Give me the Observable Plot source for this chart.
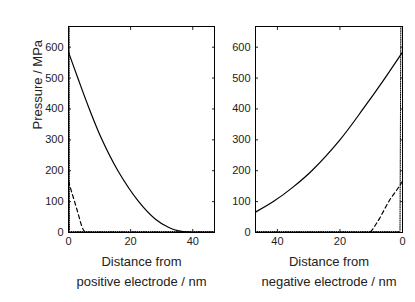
<!DOCTYPE html>
<html>
<head>
<meta charset="utf-8">
<script src="https://cdn.jsdelivr.net/npm/d3@7"></script>
<script src="https://cdn.jsdelivr.net/npm/@observablehq/plot@0.6"></script>
<style>
  html, body { margin: 0; padding: 0; background: #fff; }
  #wrap { position: relative; width: 415px; height: 302px; font-family: "Liberation Sans", Arial, sans-serif; }
  #wrap svg { position: absolute; top: 0; overflow: visible; background: none; }
</style>
</head>
<body>
<div id="wrap"></div>
<script>
// ---- data ----
const yTicks = [0, 100, 200, 300, 400, 500, 600];
const xTicks = [0, 20, 40];
const yLabel = "Pressure / MPa";
const posLabel = "Distance from\npositive electrode / nm";
const negLabel = "Distance from\nnegative electrode / nm";

// positive electrode panel
const posSolidX = [0, 3.0, 6.7, 10.8, 15.9, 22.6, 28, 32.3, 35.5, 38.7, 42, 47];
const posSolidY = [584, 500, 400, 300, 200, 100, 43, 16, 5, 1, 0.5, 0.5];
const posDashX = [0, 1.1, 2.2, 3.3, 4.3, 5.0, 5.6];
const posDashY = [166, 128, 92, 54, 20, 5, 0];
const posDotX = [0, 0.3, 47];
const posDotY = [2000, 3, 3];

// negative electrode panel
const negSolidX = [0, 5.6, 12.6, 20, 29, 35, 41.3, 47];
const negSolidY = [584, 500, 400, 300, 200, 147, 100, 66];
const negDashX = [0, 2, 4, 5.6, 7.2, 8.6, 9.9, 10.6];
const negDashY = [166, 135, 107, 78, 48, 25, 6, 0];
const negDotX = [0, 0.8, 47];
const negDotY = [2000, 3, 3];

const xMax = 47, yMax = 667;

const zip = (xs, ys) => xs.map((x, i) => ({x, y: ys[i]}));

function panel({solid, dash, dot, reverse, width, marginLeft, marginRight, label, showYLabel}) {
  const marks = [
    Plot.line(dot, {x: "x", y: "y", stroke: "black", strokeWidth: 1, strokeDasharray: "1,1.2", clip: true}),
    Plot.line(dash, {x: "x", y: "y", stroke: "black", strokeWidth: 1.2, strokeDasharray: "4,3", curve: "catmull-rom", clip: true}),
    Plot.line(solid, {x: "x", y: "y", stroke: "black", strokeWidth: 1.2, curve: "catmull-rom", clip: true}),
    Plot.axisY(yTicks, {anchor: "left", tickSize: -3, tickPadding: 8, fontSize: 11, label: null}),
    Plot.axisY(yTicks, {anchor: "right", tickSize: -3, tickFormat: () => "", label: null}),
    Plot.axisX(xTicks, {anchor: "bottom", tickSize: -3, tickPadding: 8, fontSize: 11, label: null}),
    Plot.axisX(xTicks, {anchor: "top", tickSize: -3, tickFormat: () => "", label: null}),
    Plot.frame({stroke: "black", strokeWidth: 1}),
    Plot.text([label], {frameAnchor: "bottom", lineAnchor: "top", dy: 20, fontSize: 13, lineHeight: 1.5, fill: "#222"})
  ];
  if (showYLabel) {
    marks.push(Plot.text([yLabel], {frameAnchor: "left", dx: -31, rotate: -90, fontSize: 13, fill: "#222"}));
  }
  return Plot.plot({
    width, height: 302,
    marginLeft, marginRight, marginTop: 26, marginBottom: 70,
    style: {fontFamily: "Liberation Sans, Arial, sans-serif", color: "#222", background: "none"},
    x: {domain: [0, xMax], reverse, axis: null},
    y: {domain: [0, yMax], axis: null},
    marks
  });
}

const left = panel({
  solid: zip(posSolidX, posSolidY), dash: zip(posDashX, posDashY), dot: zip(posDotX, posDotY),
  reverse: false, width: 220, marginLeft: 68, marginRight: 6, label: posLabel, showYLabel: true
});
left.style.left = "0px";
const right = panel({
  solid: zip(negSolidX, negSolidY), dash: zip(negDashX, negDashY), dot: zip(negDotX, negDotY),
  reverse: true, width: 200, marginLeft: 40, marginRight: 13, label: negLabel, showYLabel: false
});
right.style.left = "215px";
document.getElementById("wrap").append(left, right);
</script>
</body>
</html>
